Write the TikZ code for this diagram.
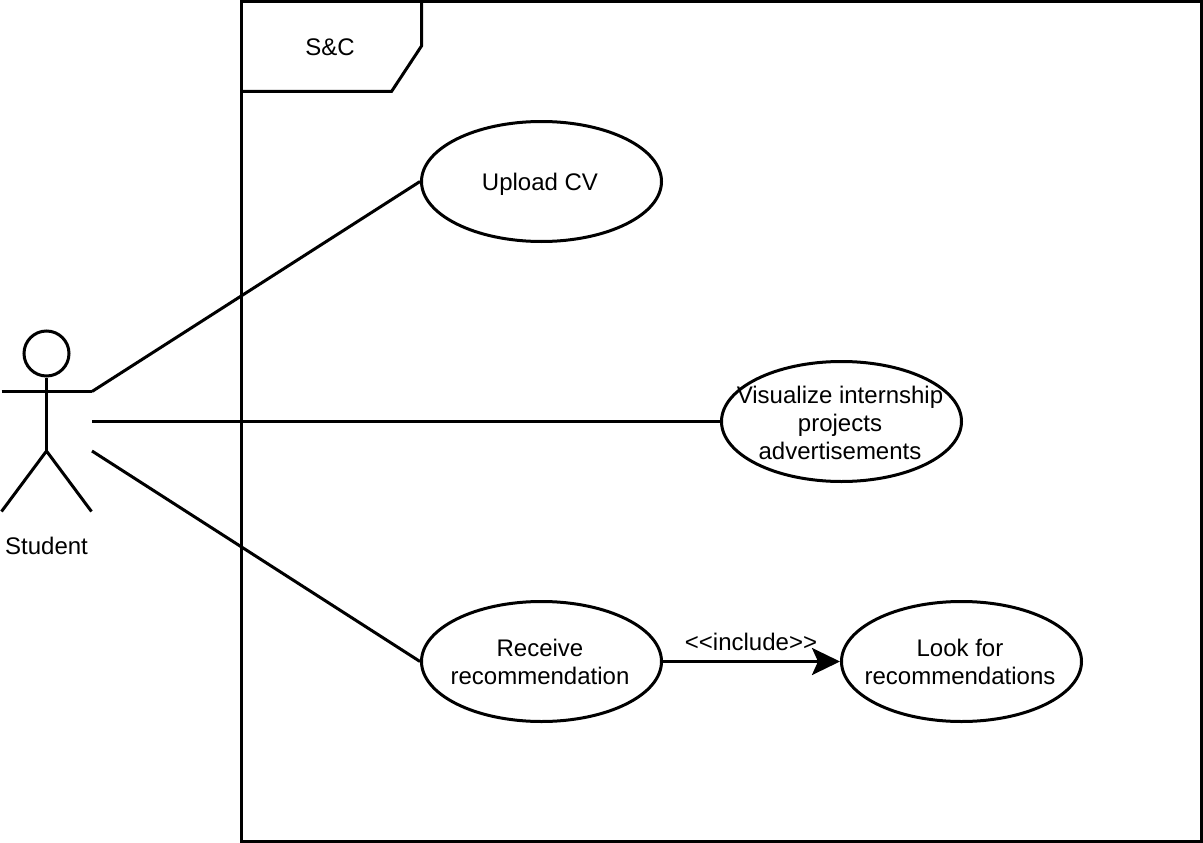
\documentclass[tikz,border=0pt]{standalone}
\usepackage{fontspec}
\setmainfont{Liberation Sans}
\usetikzlibrary{shapes.geometric,arrows.meta}
\begin{document}
\begin{tikzpicture}[x=1pt,y=-1pt,
 line width=3pt,
 usecase/.style={draw=black,ellipse,minimum width=240pt,minimum height=120pt,inner sep=0pt,align=center},
 txt/.style={font=\fontsize{24}{28}\selectfont,inner sep=0pt,align=center}]
\path[use as bounding box] (0,0) rectangle (1203,843);
\draw (241.5,1.5) rectangle (1201.5,841.5);
\draw (241.5,1.5) -- (421.5,1.5) -- (421.5,46) -- (391.5,91.5) -- (241.5,91.5);
\node[txt] (sc) at (330,47.5) {S\&C};
\node[usecase] (cv) at (541.5,181.5) {};
\node[txt] (cvtxt) at (540,184) {Upload CV};
\node[usecase] (vis) at (841.5,421.5) {};
\node[txt] (vistxt) at (840,423) {Visualize internship\\projects\\advertisements};
\node[usecase] (rec) at (541.5,661.5) {};
\node[txt] (rectxt) at (540,662) {Receive\\recommendation};
\node[usecase] (look) at (961.5,661.5) {};
\node[txt] (looktxt) at (960,662) {Look for\\recommendations};
% actor
\node[draw=black,circle,minimum size=45pt,inner sep=0pt] (head) at (46.5,353.5) {};
\coordinate (neck) at (46.5,451);
\coordinate (armL) at (1.5,391.5);
\coordinate (armR) at (92,391.5);
\coordinate (legL) at (1.5,511.5);
\coordinate (legR) at (91.5,511.5);
\coordinate (a1) at (92,391.5);
\coordinate (a2) at (92,421.5);
\coordinate (a3) at (92,451);
\draw (head.south) -- (neck);
\draw (armL) -- (armR);
\draw (legL) -- (neck) -- (legR);
\node[txt] (student) at (46.5,546) {Student};
\draw (a1) -- (cv.west);
\draw (a2) -- (vis.west);
\draw (a3) -- (rec.west);
\draw[-{Stealth[length=28pt,width=27pt,inset=6pt]}] (rec.east) -- (look.west);
\node[txt] (inc) at (751,642) {<{}<include>{}>};
\end{tikzpicture}
\end{document}
